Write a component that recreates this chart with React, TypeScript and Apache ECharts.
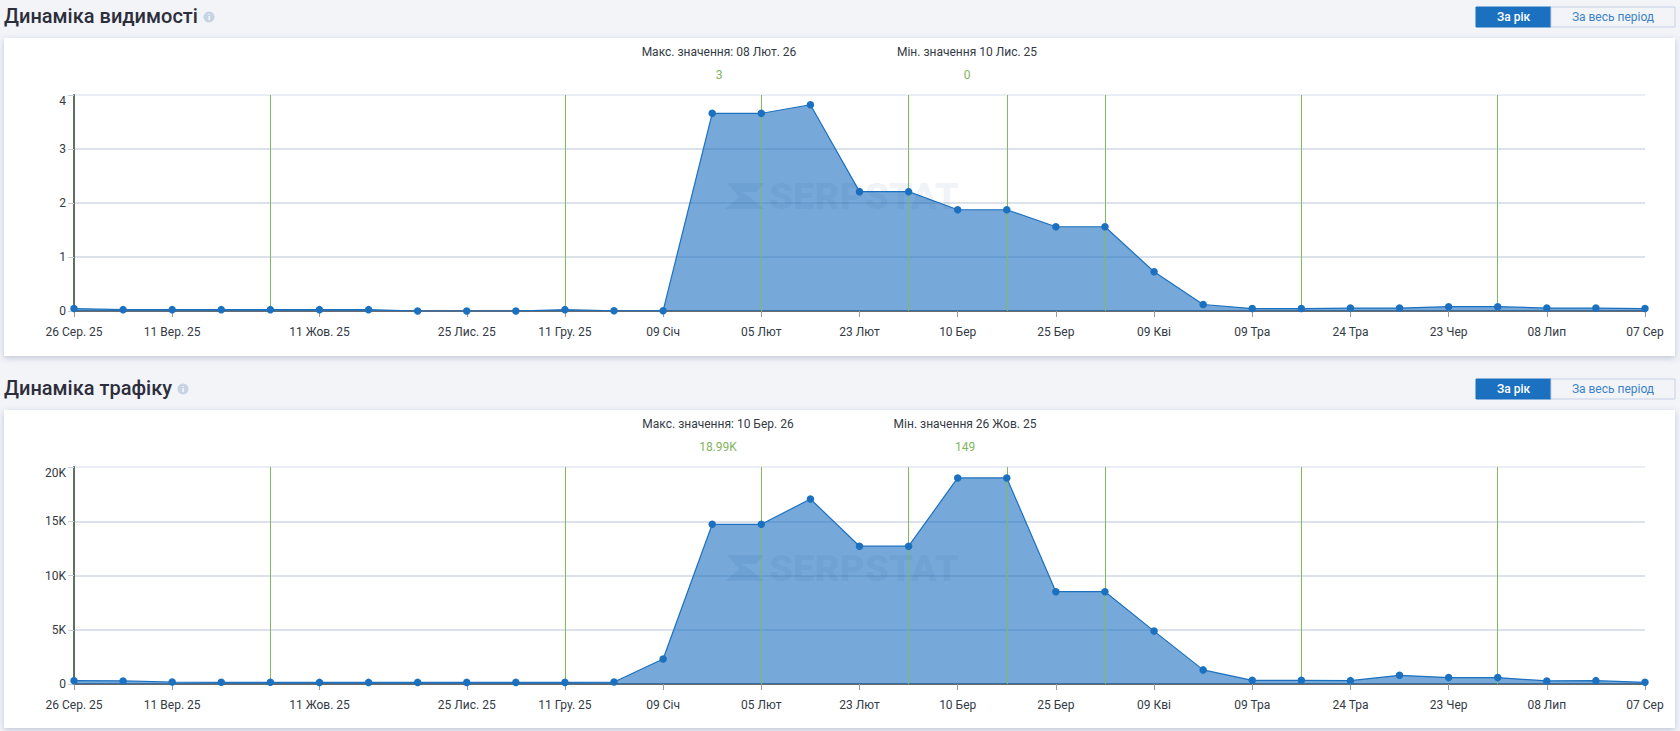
import React, { useEffect, useRef } from "react";
import * as echarts from "echarts";

const xLabels = ["26 Сер. 25","","11 Вер. 25","","","11 Жов. 25","","","25 Лис. 25","","11 Гру. 25","","09 Січ","","05 Лют","","23 Лют","","10 Бер","","25 Бер","","09 Кві","","09 Тра","","24 Тра","","23 Чер","","08 Лип","","07 Сер"];
const visibility = [0.045,0.025,0.025,0.025,0.025,0.025,0.025,0,0,0,0.025,0.005,0.005,3.66,3.66,3.82,2.21,2.21,1.875,1.875,1.56,1.56,0.727,0.12,0.045,0.045,0.055,0.055,0.08,0.08,0.055,0.055,0.045];
const traffic = [310,280,186,155,155,149,149,149,149,149,149,180,2300,14720,14720,17050,12700,12700,18990,18990,8510,8510,4875,1300,340,340,310,800,590,590,280,310,150];
const markerIdx = [4,10,14,17,19,21,25,29];

const font = "Roboto";
const tx = (x:number,y:number,text:string,fill:string,size=12,align="center",weight:any=400,z=6) => ({
  type:"text",x,y,z,silent:true,
  style:{text,fill,font:`${weight} ${size}px ${font}`,textAlign:align,textVerticalAlign:"middle"}
});

function panel(headY:number,cardY:number,cardH:number,title:string,titleW:number,maxT:string,maxV:string,minT:string,minV:string,maxX:number,minX:number,wmY:number){
  return [
    {type:"rect",z:-20,silent:true,shape:{x:4,y:cardY,width:1671,height:cardH},style:{fill:"#fff",shadowBlur:6,shadowColor:"rgba(90,110,150,0.35)",shadowOffsetY:2}},
    tx(4,headY+1,title,"#2c2e3c",20,"left",500),
    {type:"circle",z:6,silent:true,shape:{cx:titleW+5,cy:headY+2,r:5.5},style:{fill:"#c8d3e4"}},
    tx(titleW+5,headY+2,"i","#fff",8,"center",700,7),
    {type:"rect",z:6,silent:true,shape:{x:1476,y:headY-8,width:75,height:20},style:{fill:"#1b70bf",stroke:"#1b70bf"}},
    {type:"rect",z:6,silent:true,shape:{x:1551,y:headY-8,width:124,height:20},style:{fill:"#f3f4f8",stroke:"#c5d2e4"}},
    tx(1513.5,headY+2,"За рік","#fff",12,"center",500),
    tx(1613,headY+2,"За весь період","#3b82c8",12),
    tx(maxX,cardY+14,maxT,"#333a45"),
    tx(maxX,cardY+37,maxV,"#7fb55e"),
    tx(minX,cardY+14,minT,"#333a45"),
    tx(minX,cardY+37,minV,"#7fb55e"),
    {type:"polygon",z:8,silent:true,shape:{points:[[727,wmY],[764,wmY],[756,wmY+9],[741,wmY+9],[750,wmY+14],[764,wmY+26],[725,wmY+26],[739,wmY+14]]},style:{fill:"rgba(25,75,135,0.08)"}},
    {...tx(769,wmY+13,"SERPSTAT","rgba(25,75,135,0.08)",37,"left",900,8),scaleX:1.04},
  ];
}

function grid(i:number,top:number,height:number,data:number[],max:number,interval:number,fmt:(v:number)=>string){
  const c = "#d0d7e3";
  return {
    grid:{left:74,right:35,top,height},
    xAxis:{
      type:"category",gridIndex:i,boundaryGap:false,data:xLabels,
      axisLine:{onZero:false,lineStyle:{color:"#666c72",width:2}},
      axisTick:{length:6,interval:(idx:number)=>xLabels[idx]!=="",lineStyle:{color:"#9a9a9a",width:1}},
      axisLabel:{interval:(idx:number)=>xLabels[idx]!=="",color:"#333a45",fontFamily:font,fontSize:12,margin:15},
      splitLine:{show:false},
    },
    yAxis:{
      type:"value",gridIndex:i,min:0,max,interval,
      axisLine:{show:true,lineStyle:{color:"#5f7060",width:2}},
      axisTick:{show:true,length:6,lineStyle:{color:"#c5ccd6"}},
      axisLabel:{color:"#333a45",fontFamily:font,fontSize:12,margin:8,verticalAlignMaxLabel:"top",formatter:fmt},
      splitLine:{lineStyle:{color:[c,c,c,c,"#e4e7f1"],width:1.5}},
    },
    series:[{
      type:"line",z:3,xAxisIndex:i,yAxisIndex:i,data,showSymbol:false,
      lineStyle:{color:"#1b70bf",width:1.2},
      areaStyle:{color:"#1b70bf",opacity:0.6},
      markLine:{z:4,silent:true,symbol:"none",label:{show:false},animation:false,
        lineStyle:{color:"#7dbb5c",width:1,type:"solid"},
        data:markerIdx.map(v=>({xAxis:v}))},
    },{
      type:"line",z:5,xAxisIndex:i,yAxisIndex:i,data,symbol:"circle",symbolSize:7.5,showSymbol:true,showAllSymbol:true,
      lineStyle:{width:0,opacity:0},itemStyle:{color:"#1b70bf"},
    }],
  };
}

export default function App(){
  const ref = useRef<HTMLDivElement>(null);
  useEffect(()=>{
    document.body.style.margin="0";
    document.body.style.background="#f3f4f8";
    const chart = echarts.init(ref.current!,undefined,{renderer:"svg"});
    const a = grid(0,95,216,visibility,4,1,(v)=>String(v));
    const b = grid(1,467,217,traffic,20000,5000,(v)=>v===0?"0":`${v/1000}K`);
    chart.setOption({
      animation:false,
      backgroundColor:"#f3f4f8",
      grid:[a.grid,b.grid],xAxis:[a.xAxis,b.xAxis],yAxis:[a.yAxis,b.yAxis],series:[...a.series,...b.series],
      graphic:[
        ...panel(15,38,318,"Динаміка видимості",204,"Макс. значення: 08 Лют. 26","3","Мін. значення 10 Лис. 25","0",719,967,183),
        ...panel(387,410,318,"Динаміка трафіку",178,"Макс. значення: 10 Бер. 26","18.99K","Мін. значення 26 Жов. 25","149",718,965,555),
      ],
    });
    return ()=>chart.dispose();
  },[]);
  return <div ref={ref} style={{width:1680,height:731}}/>;
}
